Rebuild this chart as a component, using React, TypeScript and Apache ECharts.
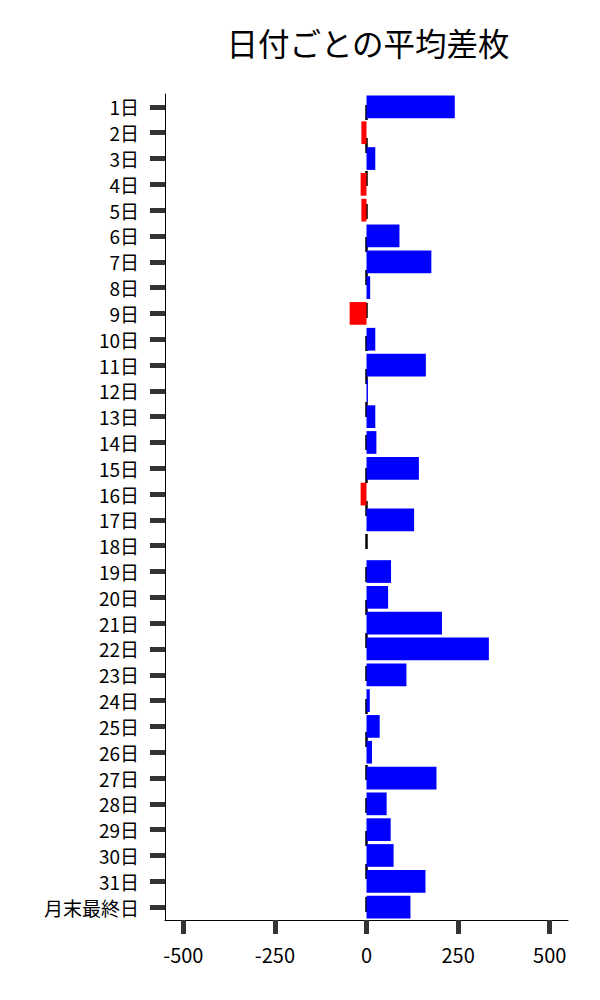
import React, { useRef, useEffect } from 'react';
import * as echarts from 'echarts';

const categories = [
  '1日', '2日', '3日', '4日', '5日', '6日', '7日', '8日', '9日', '10日',
  '11日', '12日', '13日', '14日', '15日', '16日', '17日', '18日', '19日', '20日',
  '21日', '22日', '23日', '24日', '25日', '26日', '27日', '28日', '29日', '30日',
  '31日', '月末最終日',
];

const diffValues = [
  241, -14, 24, -16, -14, 90, 177, 10, -46, 24,
  162, 4, 24, 27, 143, -16, 130, 0, 67, 59,
  206, 334, 109, 9, 36, 15, 191, 55, 66, 74,
  161, 120,
];

const xTicks = [-500, -250, 0, 250, 500];

const FONT = '"Noto Sans CJK JP", "Noto Sans", sans-serif';

const App: React.FC = () => {
  const chartRef = useRef<HTMLDivElement>(null);

  useEffect(() => {
    document.body.style.margin = '0';
    let chart: echarts.ECharts | null = null;
    if (chartRef.current) {
      chart = echarts.init(chartRef.current, null, { renderer: 'svg' });
      const option: echarts.EChartsOption = {
        animation: false,
        backgroundColor: '#fff',
        textStyle: { fontFamily: FONT },
        title: {
          text: '日付ごとの平均差枚',
          left: 363,
          top: 21,
          textAlign: 'center',
          textStyle: { fontFamily: FONT, fontSize: 31.5, fontWeight: 'normal', color: '#000' },
        },
        grid: { left: 165, right: 32, top: 94, bottom: 80, containLabel: false },
        xAxis: {
          type: 'value',
          min: -550,
          max: 550,
          splitLine: { show: false },
          axisLine: { show: true, onZero: false, lineStyle: { color: '#000', width: 1 } },
          axisTick: {
            show: true,
            length: 14,
            lineStyle: { color: '#333', width: 5 },
            customValues: xTicks,
          },
          axisLabel: {
            fontFamily: FONT,
            fontSize: 20,
            color: '#000',
            margin: 24,
            customValues: xTicks,
          },
        },
        yAxis: {
          type: 'category',
          inverse: true,
          data: categories,
          axisLine: { show: true, onZero: false, lineStyle: { color: '#000', width: 1 } },
          axisTick: {
            show: true,
            interval: 0,
            alignWithLabel: true,
            length: 15,
            lineStyle: { color: '#333', width: 5 },
          },
          axisLabel: {
            interval: 0,
            hideOverlap: false,
            fontFamily: FONT,
            fontSize: 19,
            lineHeight: 19,
            color: '#000',
            margin: 26,
          },
          splitLine: { show: false },
        },
        series: [
          {
            type: 'bar',
            barCategoryGap: '12%',
            data: diffValues.map((v) => ({
              value: v,
              itemStyle: { color: v < 0 ? '#ff0000' : '#0000ff' },
            })),
            markLine: {
              silent: true,
              symbol: 'none',
              z: 1,
              label: { show: false },
              lineStyle: { color: '#000', width: 2.5, type: [15, 18], dashOffset: 22 },
              data: [{ xAxis: 0 }],
            },
          },
        ],
      };
      chart.setOption(option);
    }
    return () => {
      if (chart) chart.dispose();
    };
  }, []);

  return <div ref={chartRef} style={{ width: '600px', height: '1000px' }} />;
};

export default App;
